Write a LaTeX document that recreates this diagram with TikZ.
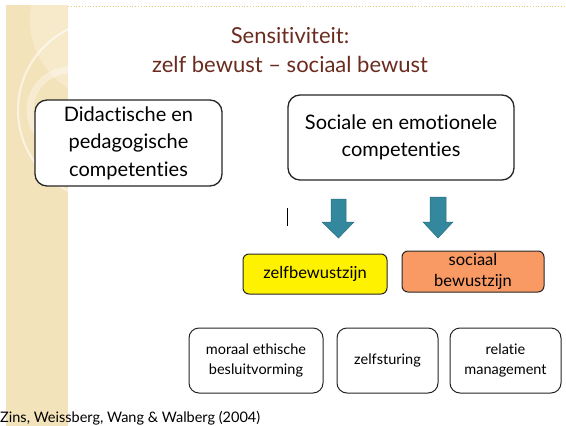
\documentclass[tikz,border=0pt]{standalone}
\usepackage{fontspec}
\setmainfont{Lato}[Ligatures=NoCommon]
\begin{document}
\begin{tikzpicture}[x=1pt,y=-1pt,
  bigbox/.style={draw=black!85, line width=1.3pt, rounded corners=12pt, fill=white, align=center, font=\fontsize{20}{27.5}\selectfont, inner sep=0pt},
  colbox/.style={draw=black!85, line width=1pt, rounded corners=6pt, align=center, font=\fontsize{16.5}{21}\selectfont, inner sep=0pt},
  smallbox/.style={draw=black!85, line width=1pt, rounded corners=10pt, align=center, font=\fontsize{14.5}{19.5}\selectfont, inner sep=0pt},
  arrowshape/.style={fill=arrowteal, draw=arrowteal!80!black, line width=0.5pt}
]
\definecolor{beige}{RGB}{243,227,186}
\definecolor{titlered}{RGB}{107,43,30}
\definecolor{arrowteal}{RGB}{52,136,157}
\definecolor{orangefill}{RGB}{249,154,100}
\useasboundingbox (0,0) rectangle (566,426);
\fill[white] (0,0) rectangle (566,426);
% side strip
\fill[beige] (6,5) rectangle (68,426);
\begin{scope}
\clip (6,5) rectangle (68,426);
\draw[white, opacity=0.6, line width=2pt] (108,110) circle (90);
\draw[white, opacity=0.35, line width=7pt] (70,110) circle (40);
\fill[white, opacity=0.25] (110,20) circle (80);
\end{scope}
\draw[draw={rgb,255:red,232;green,201;blue,122}, dotted, line width=0.8pt] (68,6) -- (566,6);
% title
\node[text=titlered, font=\fontsize{22}{29}\selectfont, align=center] (title) at (290,50) {Sensitiviteit:\\zelf bewust -- sociaal bewust};
% boxes
\node[bigbox, minimum width=187pt, minimum height=86pt] (didac) at (128.5,143) {Didactische en\\pedagogische\\competenties};
\node[bigbox, minimum width=226pt, minimum height=85pt] (soc) at (401,137.5) {Sociale en emotionele\\competenties};
% arrows
\fill[arrowshape] (331,199) -- (346,199) -- (346,222) -- (354,222) -- (338.5,238) -- (322,222) -- (331,222) -- cycle;
\fill[arrowshape] (430,197) -- (446,197) -- (446,222) -- (453,222) -- (438,238) -- (423,222) -- (430,222) -- cycle;
% cursor mark
\draw[line width=1.6pt] (287.5,208) -- (287.5,226);
% coloured boxes
\node[colbox, fill=yellow, minimum width=144pt, minimum height=40pt] (zelf) at (315,274) {zelfbewustzijn};
\node[colbox, fill=orangefill, minimum width=142pt, minimum height=41pt] (sociaal) at (473,271.5) {sociaal\\bewustzijn};
% bottom boxes
\node[smallbox, minimum width=134pt, minimum height=65pt] (moraal) at (256,360.5) {moraal ethische\\besluitvorming};
\node[smallbox, minimum width=101pt, minimum height=65pt] (sturing) at (387.5,360.5) {zelfsturing};
\node[smallbox, minimum width=111pt, minimum height=65pt] (relatie) at (505.5,360.5) {relatie\\management};
% citation
\node[anchor=base west, font=\fontsize{14.5}{16}\selectfont, inner sep=0pt] (cite) at (0,422) {Zins, Weissberg, Wang \& Walberg (2004)};
\end{tikzpicture}
\end{document}
